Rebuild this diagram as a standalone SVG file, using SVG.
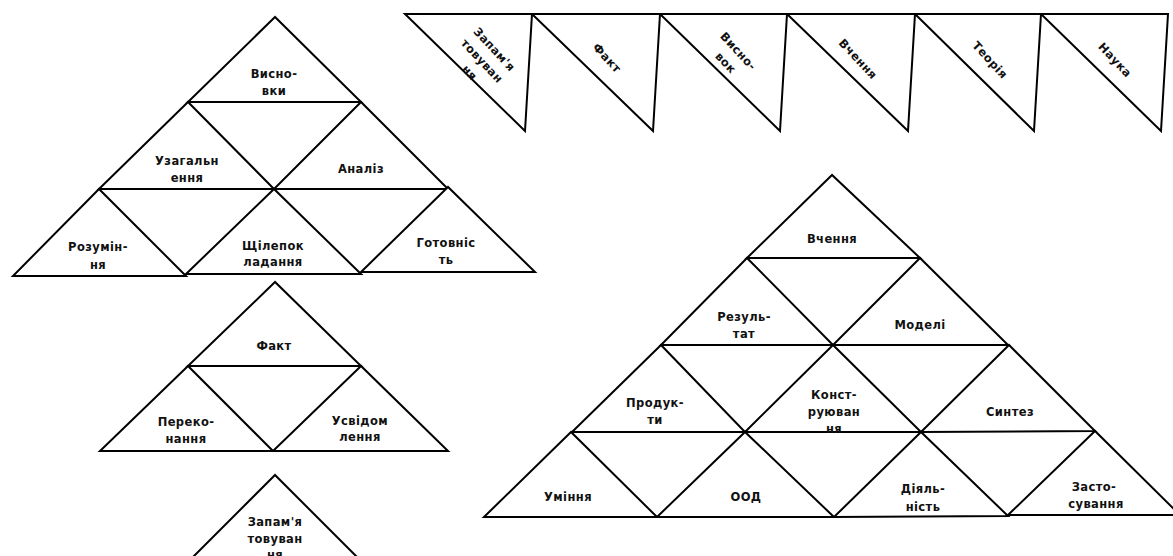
<svg xmlns="http://www.w3.org/2000/svg" width="1173" height="556" viewBox="0 0 1173 556">
<style>
.t{fill:#fff;stroke:#000;stroke-width:2;stroke-linejoin:miter}
.l{font-family:"DejaVu Sans","Liberation Sans",sans-serif;font-size:11.5px;font-weight:bold;text-anchor:middle;fill:#111;letter-spacing:0.4px}
</style>
<rect width="1173" height="556" fill="#fff"/>
<g id="pyramid-top-left">
<g id="tl-vysnovky"><polygon class="t" points="275,17 188,102 361,102"/><text class="l"><tspan x="274" y="78">Висно-</tspan><tspan x="274" y="95">вки</tspan></text></g>
<g id="tl-uzahalnennia"><polygon class="t" points="188,102 99,189 274,189"/><text class="l"><tspan x="187" y="165">Узагальн</tspan><tspan x="187" y="182">ення</tspan></text></g>
<g id="tl-analiz"><polygon class="t" points="361,102 274,189 448,189"/><text class="l" x="361" y="173">Аналіз</text></g>
<g id="tl-rozuminnia"><polygon class="t" points="99,189 13,276 186,276"/><text class="l"><tspan x="98" y="251">Розумін-</tspan><tspan x="98" y="269">ня</tspan></text></g>
<g id="tl-shchilepokladannia"><polygon class="t" points="274,189 186,274 361,274"/><text class="l"><tspan x="273" y="250">Щілепок</tspan><tspan x="273" y="266">ладання</tspan></text></g>
<g id="tl-hotovnist"><polygon class="t" points="448,187 361,272 535,272"/><text class="l"><tspan x="446" y="247">Готовніс</tspan><tspan x="446" y="264">ть</tspan></text></g>
</g>
<g id="pyramid-middle-left">
<g id="ml-fakt"><polygon class="t" points="275,282 188,366 361,366"/><text class="l" x="274" y="350">Факт</text></g>
<g id="ml-perekonannia"><polygon class="t" points="188,366 100,451 273,451"/><text class="l"><tspan x="186" y="426">Переко-</tspan><tspan x="186" y="443">нання</tspan></text></g>
<g id="ml-usvidomlennia"><polygon class="t" points="361,366 273,451 448,451"/><text class="l"><tspan x="360" y="425">Усвідом</tspan><tspan x="360" y="441">лення</tspan></text></g>
</g>
<g id="bottom-left">
<g id="bl-zapamiatovuvannia"><polygon class="t" points="275,475 180,570 370,570"/><text class="l"><tspan x="275" y="526">Запам'я</tspan><tspan x="275" y="543">товуван</tspan><tspan x="275" y="559">ня</tspan></text></g>
</g>
<g id="banner">
<g id="bn-1"><polygon class="t" points="405,14 532,14 525,131"/><text class="l" transform="translate(482,61) rotate(47)"><tspan x="0" y="-13">Запам'я</tspan><tspan x="0" y="4">товуван</tspan><tspan x="0" y="21">ня</tspan></text></g>
<g id="bn-2"><polygon class="t" points="532,14 660,14 653,131"/><text class="l" transform="translate(607,58) rotate(47)" x="0" y="4">Факт</text></g>
<g id="bn-3"><polygon class="t" points="660,14 787,14 780,131"/><text class="l" transform="translate(732,57) rotate(47)"><tspan x="0" y="-4.5">Висно-</tspan><tspan x="0" y="12.5">вок</tspan></text></g>
<g id="bn-4"><polygon class="t" points="787,14 915,14 908,131"/><text class="l" transform="translate(858,59) rotate(47)" x="0" y="4">Вчення</text></g>
<g id="bn-5"><polygon class="t" points="915,14 1041,14 1034,131"/><text class="l" transform="translate(990,60) rotate(47)" x="0" y="4">Теорія</text></g>
<g id="bn-6"><polygon class="t" points="1041,14 1168,14 1161,131"/><text class="l" transform="translate(1115,60) rotate(47)" x="0" y="4">Наука</text></g>
</g>
<g id="pyramid-right">
<g id="r-vchennia"><polygon class="t" points="832,175 747,258 920,258"/><text class="l" x="832" y="243">Вчення</text></g>
<g id="r-rezultat"><polygon class="t" points="747,258 661,345 833,345"/><text class="l"><tspan x="744" y="321">Резуль-</tspan><tspan x="744" y="338">тат</tspan></text></g>
<g id="r-modeli"><polygon class="t" points="920,258 833,345 1008,345"/><text class="l" x="920" y="329">Моделі</text></g>
<g id="r-produkty"><polygon class="t" points="661,345 572,432 745,432"/><text class="l"><tspan x="655" y="407">Продук-</tspan><tspan x="655" y="424">ти</tspan></text></g>
<g id="r-konstruiuvannia"><polygon class="t" points="833,345 745,432 921,432"/><text class="l"><tspan x="834" y="399">Конст-</tspan><tspan x="834" y="416">руюван</tspan><tspan x="834" y="433">ня</tspan></text></g>
<g id="r-syntez"><polygon class="t" points="1009,345 921,432 1095,431"/><text class="l" x="1010" y="416">Синтез</text></g>
<g id="r-uminnia"><polygon class="t" points="571,432 484,517 657,517"/><text class="l" x="568" y="501">Уміння</text></g>
<g id="r-ood"><polygon class="t" points="745,432 657,517 834,517"/><text class="l" x="746" y="501">ООД</text></g>
<g id="r-diialnist"><polygon class="t" points="921,432 834,517 1008,516"/><text class="l"><tspan x="923" y="493">Діяль-</tspan><tspan x="923" y="511">ність</tspan></text></g>
<g id="r-zastosuvannia"><polygon class="t" points="1095,431 1008,515 1180,515"/><text class="l"><tspan x="1094" y="491">Засто-</tspan><tspan x="1096" y="508">сування</tspan></text></g>
</g>
<g id="connectors"/>
</svg>
